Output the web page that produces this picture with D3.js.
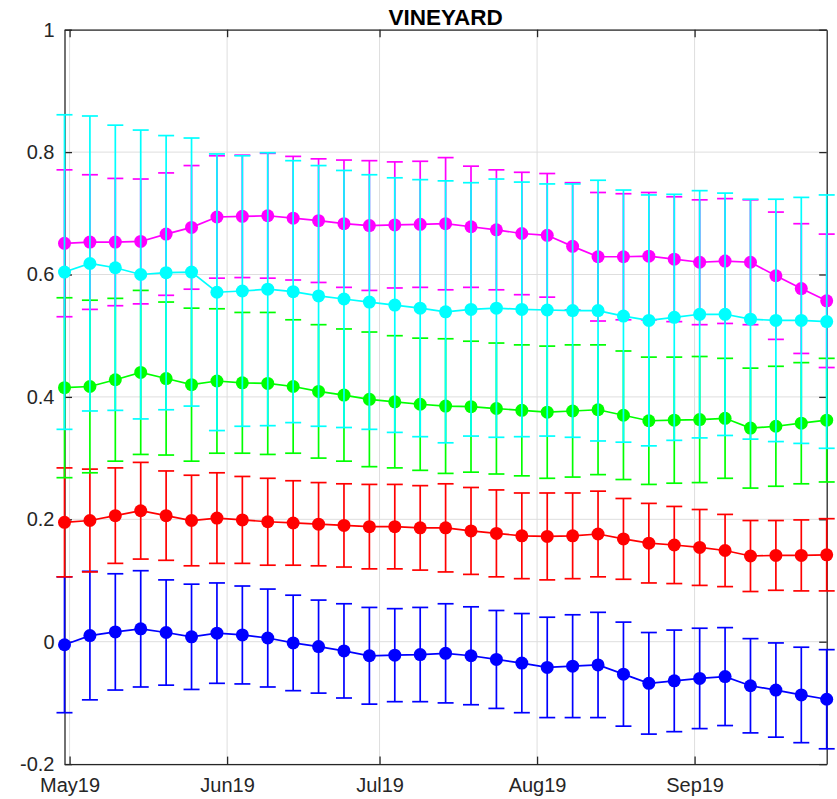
<!DOCTYPE html>
<html>
<head>
<meta charset="utf-8">
<script src="https://cdn.jsdelivr.net/npm/d3@7"></script>
<style>
  html, body { margin: 0; padding: 0; background: #ffffff; }
  svg { display: block; }
</style>
</head>
<body>
<svg id="chart" width="837" height="799"></svg>
<script>
// ---------------- DATA ----------------
const title = "VINEYARD";

const dates = [
  "2019-04-30", "2019-05-05", "2019-05-10", "2019-05-15", "2019-05-20", "2019-05-25", "2019-05-30",
  "2019-06-04", "2019-06-09", "2019-06-14", "2019-06-19", "2019-06-24", "2019-06-29",
  "2019-07-04", "2019-07-09", "2019-07-14", "2019-07-19", "2019-07-24", "2019-07-29",
  "2019-08-03", "2019-08-08", "2019-08-13", "2019-08-18", "2019-08-23", "2019-08-28",
  "2019-09-02", "2019-09-07", "2019-09-12", "2019-09-17", "2019-09-22", "2019-09-27"
];

const xTickDates = ["2019-05-01", "2019-06-01", "2019-07-01", "2019-08-01", "2019-09-01"];
const xTickLabels = ["May19", "Jun19", "Jul19", "Aug19", "Sep19"];
const yTicks = [-0.2, 0, 0.2, 0.4, 0.6, 0.8, 1];
const yTickLabels = ["-0.2", "0", "0.2", "0.4", "0.6", "0.8", "1"];

const blueMean = [-0.005, 0.010, 0.016, 0.021, 0.015, 0.008, 0.014, 0.011, 0.006, -0.002, -0.008,
  -0.015, -0.023, -0.022, -0.021, -0.019, -0.023, -0.029, -0.035, -0.042, -0.040,
  -0.038, -0.053, -0.068, -0.064, -0.060, -0.057, -0.072, -0.079, -0.087, -0.094];
const blueErr = [0.111, 0.105, 0.095, 0.095, 0.086, 0.086, 0.082, 0.080, 0.080, 0.078, 0.076,
  0.077, 0.079, 0.076, 0.077, 0.081, 0.080, 0.080, 0.081, 0.082, 0.084,
  0.086, 0.085, 0.083, 0.083, 0.082, 0.080, 0.077, 0.077, 0.078, 0.081];

const redMean = [0.195, 0.198, 0.206, 0.214, 0.206, 0.198, 0.202, 0.199, 0.196, 0.194, 0.192,
  0.190, 0.188, 0.188, 0.186, 0.186, 0.181, 0.177, 0.173, 0.172, 0.173,
  0.176, 0.168, 0.161, 0.158, 0.154, 0.149, 0.140, 0.141, 0.141, 0.142];
const redErr = [0.089, 0.084, 0.078, 0.079, 0.073, 0.074, 0.074, 0.071, 0.071, 0.069, 0.068,
  0.068, 0.069, 0.069, 0.069, 0.072, 0.071, 0.071, 0.070, 0.071, 0.070,
  0.070, 0.066, 0.065, 0.063, 0.062, 0.059, 0.058, 0.057, 0.058, 0.059];

const greenMean = [0.415, 0.417, 0.428, 0.440, 0.430, 0.420, 0.426, 0.423, 0.422, 0.417, 0.409,
  0.403, 0.396, 0.392, 0.388, 0.385, 0.384, 0.381, 0.378, 0.375, 0.377,
  0.379, 0.370, 0.361, 0.362, 0.363, 0.365, 0.349, 0.352, 0.357, 0.362];
const greenErr = [0.147, 0.141, 0.133, 0.134, 0.125, 0.125, 0.118, 0.115, 0.116, 0.109, 0.109,
  0.108, 0.110, 0.108, 0.108, 0.110, 0.107, 0.107, 0.107, 0.108, 0.108,
  0.106, 0.105, 0.104, 0.103, 0.103, 0.098, 0.098, 0.098, 0.099, 0.101];

const magentaMean = [0.651, 0.653, 0.653, 0.654, 0.666, 0.677, 0.694, 0.695, 0.696, 0.692, 0.688,
  0.683, 0.680, 0.681, 0.682, 0.683, 0.678, 0.673, 0.667, 0.664, 0.646,
  0.629, 0.629, 0.630, 0.625, 0.620, 0.622, 0.620, 0.598, 0.577, 0.557];
const magentaErr = [0.120, 0.110, 0.104, 0.102, 0.100, 0.101, 0.100, 0.100, 0.102, 0.101, 0.101,
  0.104, 0.106, 0.103, 0.103, 0.108, 0.099, 0.098, 0.100, 0.101, 0.104,
  0.105, 0.103, 0.104, 0.102, 0.102, 0.102, 0.102, 0.104, 0.106, 0.109];

const cyanMean = [0.604, 0.618, 0.611, 0.600, 0.603, 0.604, 0.571, 0.573, 0.576, 0.572, 0.565,
  0.560, 0.555, 0.550, 0.545, 0.539, 0.543, 0.545, 0.543, 0.542, 0.541,
  0.541, 0.532, 0.525, 0.530, 0.535, 0.535, 0.527, 0.525, 0.525, 0.523];
const cyanErr = [0.257, 0.241, 0.233, 0.236, 0.224, 0.219, 0.226, 0.221, 0.223, 0.214, 0.213,
  0.210, 0.208, 0.208, 0.210, 0.214, 0.207, 0.211, 0.208, 0.206, 0.207,
  0.213, 0.206, 0.205, 0.201, 0.202, 0.198, 0.196, 0.198, 0.201, 0.207];

const seriesList = [
  { name: "blue", color: "#0000ff", mean: blueMean, err: blueErr },
  { name: "red", color: "#ff0000", mean: redMean, err: redErr },
  { name: "green", color: "#00ff00", mean: greenMean, err: greenErr },
  { name: "magenta", color: "#ff00ff", mean: magentaMean, err: magentaErr },
  { name: "cyan", color: "#00ffff", mean: cyanMean, err: cyanErr }
];

// ---------------- LAYOUT ----------------
const X0 = 64.5, X1 = 826.7, Y0 = 29.7, Y1 = 764.1;
const axisColor = "#262626";
const fontFam = "'Liberation Sans', Arial, Helvetica, sans-serif";
const parse = d3.utcParse("%Y-%m-%d");
const dateObjs = dates.map(parse);

const x = d3.scaleUtc().domain([dateObjs[0], dateObjs[dateObjs.length - 1]]).range([X0, X1]);
const y = d3.scaleLinear().domain([-0.2, 1]).range([Y1, Y0]);

const svg = d3.select("#chart");
svg.append("rect").attr("width", 837).attr("height", 799).attr("fill", "#ffffff");

// grid
const grid = svg.append("g");
const xTickObjs = xTickDates.map(parse);
grid.selectAll("line.gx").data(xTickObjs).enter().append("line")
  .attr("x1", d => x(d)).attr("x2", d => x(d)).attr("y1", Y0).attr("y2", Y1)
  .attr("stroke", "#dedede").attr("stroke-width", 1);
grid.selectAll("line.gy").data(yTicks).enter().append("line")
  .attr("x1", X0).attr("x2", X1).attr("y1", d => y(d)).attr("y2", d => y(d))
  .attr("stroke", "#dedede").attr("stroke-width", 1);

// axes
const tickLen = 7.5;
const gBottom = svg.append("g").attr("transform", `translate(0,${Y1})`)
  .call(d3.axisBottom(x).tickValues(xTickObjs).tickFormat((d, i) => xTickLabels[i])
    .tickSizeInner(-tickLen).tickSizeOuter(0).tickPadding(13.5));
const gTop = svg.append("g").attr("transform", `translate(0,${Y0})`)
  .call(d3.axisTop(x).tickValues(xTickObjs).tickFormat("")
    .tickSizeInner(-tickLen).tickSizeOuter(0));
const gLeft = svg.append("g").attr("transform", `translate(${X0},0)`)
  .call(d3.axisLeft(y).tickValues(yTicks).tickFormat((d, i) => yTickLabels[i])
    .tickSizeInner(-tickLen).tickSizeOuter(0).tickPadding(10));
const gRight = svg.append("g").attr("transform", `translate(${X1},0)`)
  .call(d3.axisRight(y).tickValues(yTicks).tickFormat("")
    .tickSizeInner(-tickLen).tickSizeOuter(0));

[gBottom, gTop, gLeft, gRight].forEach(g => {
  g.select(".domain").attr("stroke", axisColor).attr("stroke-width", 1.3);
  g.selectAll(".tick line").attr("stroke", axisColor).attr("stroke-width", 1.3);
  g.selectAll(".tick text").attr("fill", axisColor)
    .style("font-family", fontFam).style("font-size", "20px");
});

// series
const plot = svg.append("g");
seriesList.forEach(s => {
  const g = plot.append("g").attr("class", "series-" + s.name);
  const pts = dateObjs.map((d, i) => ({ d, m: s.mean[i], e: s.err[i] }));
  const capW = 8;
  // error bars
  pts.forEach(p => {
    const cx = x(p.d), yl = y(p.m - p.e), yu = y(p.m + p.e);
    g.append("line").attr("x1", cx).attr("x2", cx).attr("y1", yu).attr("y2", yl)
      .attr("stroke", s.color).attr("stroke-width", 1.7);
    g.append("line").attr("x1", cx - capW).attr("x2", cx + capW).attr("y1", yu).attr("y2", yu)
      .attr("stroke", s.color).attr("stroke-width", 1.7);
    g.append("line").attr("x1", cx - capW).attr("x2", cx + capW).attr("y1", yl).attr("y2", yl)
      .attr("stroke", s.color).attr("stroke-width", 1.7);
  });
  // connecting line
  g.append("path").datum(pts)
    .attr("d", d3.line().x(p => x(p.d)).y(p => y(p.m)))
    .attr("fill", "none").attr("stroke", s.color).attr("stroke-width", 1.7);
  // markers
  g.selectAll("circle").data(pts).enter().append("circle")
    .attr("cx", p => x(p.d)).attr("cy", p => y(p.m)).attr("r", 6.5)
    .attr("fill", s.color);
});

// title
svg.append("text").attr("x", (X0 + X1) / 2).attr("y", 25)
  .attr("text-anchor", "middle")
  .style("font-family", fontFam).style("font-weight", "bold").style("font-size", "22.5px")
  .attr("fill", "#000000").text(title);
</script>
</body>
</html>
